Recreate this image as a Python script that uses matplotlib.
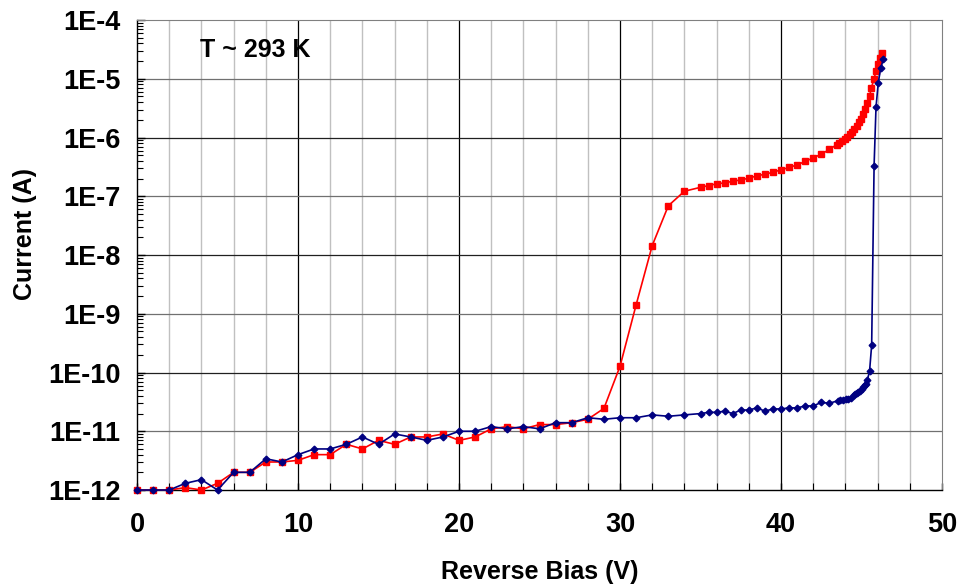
import matplotlib
matplotlib.use("Agg")
import matplotlib.pyplot as plt
from matplotlib.ticker import FixedLocator, LogLocator, NullFormatter

# Reverse-bias sweep (V) and measured current (A), device A (red squares)
bias_a = [0, 1, 2, 3, 4, 5, 6, 7, 8, 9, 10, 11, 12, 13, 14, 15, 16, 17, 18, 19,
          20, 21, 22, 23, 24, 25, 26, 27, 28, 29, 30, 31, 32, 33, 34, 35, 35.5,
          36, 36.5, 37, 37.5, 38, 38.5, 39, 39.5, 40, 40.5, 41, 41.5, 42, 42.5,
          43, 43.45, 43.6, 43.8, 43.95, 44.1, 44.27, 44.4, 44.55, 44.7, 44.85,
          44.97, 45.1, 45.24, 45.36, 45.5, 45.6, 45.78, 45.9, 46.0, 46.17, 46.3]
current_a = [1e-12, 1e-12, 1e-12, 1.1e-12, 1e-12, 1.3e-12, 2e-12, 2e-12, 3e-12,
             3e-12, 3.2e-12, 4e-12, 4e-12, 6e-12, 5e-12, 7e-12, 6e-12, 8e-12,
             8e-12, 9e-12, 7e-12, 8e-12, 1.1e-11, 1.2e-11, 1.1e-11, 1.3e-11,
             1.3e-11, 1.4e-11, 1.6e-11, 2.45e-11, 1.28e-10, 1.42e-9, 1.45e-8,
             6.9e-8, 1.22e-7, 1.42e-7, 1.52e-7, 1.63e-7, 1.69e-7, 1.8e-7, 1.9e-7,
             2.03e-7, 2.23e-7, 2.37e-7, 2.57e-7, 2.82e-7, 3.09e-7, 3.43e-7,
             3.91e-7, 4.52e-7, 5.2e-7, 6.27e-7, 7.53e-7, 8.0e-7, 8.68e-7, 9.4e-7,
             1.03e-6, 1.13e-6, 1.26e-6, 1.39e-6, 1.59e-6, 1.81e-6, 2.09e-6,
             2.55e-6, 3.1e-6, 3.82e-6, 5.0e-6, 6.9e-6, 9.9e-6, 1.38e-5, 1.79e-5,
             2.27e-5, 2.75e-5]

# Device B (navy diamonds)
bias_b = [0, 1, 2, 3, 4, 5, 6, 7, 8, 9, 10, 11, 12, 13, 14, 15, 16, 17, 18, 19,
          20, 21, 22, 23, 24, 25, 26, 27, 28, 29, 30, 31, 32, 33, 34, 35, 35.5,
          36, 36.5, 37, 37.5, 38, 38.5, 39, 39.5, 40, 40.5, 41, 41.5, 42, 42.5,
          43, 43.52, 43.68, 43.85, 44.02, 44.18, 44.35, 44.51, 44.6, 44.7, 44.8,
          44.9, 45.01, 45.09, 45.2, 45.26, 45.36, 45.5, 45.63, 45.78, 45.9,
          46.04, 46.19, 46.35]
current_b = [1e-12, 1e-12, 1e-12, 1.3e-12, 1.5e-12, 1e-12, 2e-12, 2e-12, 3.4e-12,
             3e-12, 4e-12, 5e-12, 5e-12, 6e-12, 8e-12, 6e-12, 9e-12, 8e-12,
             7e-12, 8e-12, 1e-11, 1e-11, 1.2e-11, 1.1e-11, 1.2e-11, 1.1e-11,
             1.4e-11, 1.4e-11, 1.7e-11, 1.6e-11, 1.7e-11, 1.7e-11, 1.9e-11,
             1.8e-11, 1.9e-11, 2.0e-11, 2.1e-11, 2.1e-11, 2.2e-11, 2.0e-11,
             2.3e-11, 2.3e-11, 2.5e-11, 2.2e-11, 2.4e-11, 2.4e-11, 2.5e-11,
             2.5e-11, 2.7e-11, 2.7e-11, 3.1e-11, 3.0e-11, 3.3e-11, 3.4e-11,
             3.45e-11, 3.5e-11, 3.5e-11, 3.7e-11, 4.1e-11, 4.3e-11, 4.4e-11,
             4.6e-11, 4.9e-11, 5.2e-11, 5.6e-11, 6.1e-11, 6.5e-11, 7.4e-11,
             1.06e-10, 2.95e-10, 3.3e-7, 3.3e-6, 8.6e-6, 1.5e-5, 2.15e-5]

y_tick_values = [1e-12, 1e-11, 1e-10, 1e-9, 1e-8, 1e-7, 1e-6, 1e-5, 1e-4]
y_tick_labels = ["1E-12", "1E-11", "1E-10", "1E-9", "1E-8", "1E-7", "1E-6",
                 "1E-5", "1E-4"]
x_tick_values = [0, 10, 20, 30, 40, 50]

plt.rcParams["font.family"] = ["Liberation Sans", "DejaVu Sans"]
plt.rcParams["font.weight"] = "bold"

fig = plt.figure(figsize=(9.59, 5.86), dpi=100)
ax = fig.add_axes([0.1429, 0.1638, 0.8394, 0.802])

ax.set_yscale("log")
ax.set_xlim(0, 50)
ax.set_ylim(1e-12, 1e-4)

# grid: light minor verticals every 2 V, black majors
for v in range(2, 50, 2):
    if v % 10:
        ax.axvline(v, color="#c0c0c0", lw=1.0, zorder=0)
for v in range(10, 50, 10):
    ax.axvline(v, color="black", lw=0.9, zorder=0.5)
for i, val in enumerate(y_tick_values[1:-1]):
    ax.axhline(val, color="#202020" if i % 2 else "#707070", lw=0.9, zorder=0.5)

ax.plot(bias_a, current_a, color="#ff0000", lw=1.2, marker="s", ms=4.8,
        mec="#ff0000", mfc="#ff0000", zorder=3, clip_on=False)
ax.plot(bias_b, current_b, color="#000080", lw=1.2, marker="D", ms=3.4,
        mec="#000080", mfc="#000080", zorder=4, clip_on=False)

ax.yaxis.set_major_locator(FixedLocator(y_tick_values))
ax.set_yticklabels(y_tick_labels)
ax.yaxis.set_minor_locator(LogLocator(base=10, subs=range(2, 10), numticks=20))
ax.yaxis.set_minor_formatter(NullFormatter())
ax.xaxis.set_major_locator(FixedLocator(x_tick_values))
ax.xaxis.set_minor_locator(FixedLocator(list(range(0, 51, 2))))

ax.tick_params(axis="both", which="both", direction="in", colors="black",
               labelsize=19.5)
ax.tick_params(axis="y", which="major", length=6, width=1.0, pad=12)
ax.tick_params(axis="y", which="minor", length=4.5, width=0.8)
ax.tick_params(axis="x", which="major", length=5, width=1.0, pad=16)
ax.tick_params(axis="x", which="minor", length=5, width=0.8)
for lab in ax.get_xticklabels() + ax.get_yticklabels():
    lab.set_fontweight("bold")

ax.spines["left"].set_color("black")
ax.spines["bottom"].set_color("black")
ax.spines["left"].set_linewidth(1.0)
ax.spines["bottom"].set_linewidth(1.0)
ax.spines["top"].set_color("#808080")
ax.spines["right"].set_color("#808080")

ax.set_xlabel("Reverse Bias (V)", fontsize=18, fontweight="bold", va="center")
ax.xaxis.set_label_coords(0.5, -0.175)
ax.set_ylabel("Current (A)", fontsize=18, fontweight="bold", va="center")
ax.yaxis.set_label_coords(-0.139, 0.544)

ax.text(0.078, 0.936, "T ~ 293 K", transform=ax.transAxes, fontsize=18,
        fontweight="bold", ha="left", va="center")

fig.savefig("out.png", dpi=100)
